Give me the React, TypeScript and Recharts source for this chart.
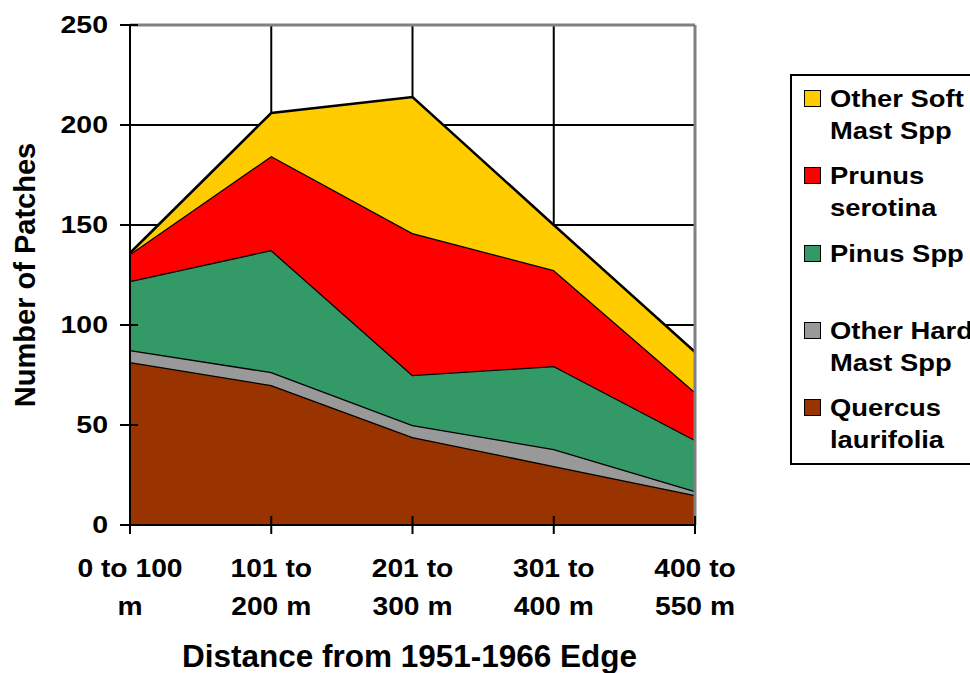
import React from 'react';
import { AreaChart, Area, XAxis, YAxis, CartesianGrid, ReferenceLine } from 'recharts';

const categories = ['0 to 100 m', '101 to 200 m', '201 to 300 m', '301 to 400 m', '400 to 550 m'];
const tickLabelLines = [
  ['0 to 100', 'm'],
  ['101 to', '200 m'],
  ['201 to', '300 m'],
  ['301 to', '400 m'],
  ['400 to', '550 m'],
];
const quercus = [81.5, 70, 44, 29.5, 15];
const otherHard = [6, 6.5, 6, 8.5, 2];
const pinus = [34.5, 61, 25, 41.5, 25.5];
const prunus = [13.5, 47, 71, 48, 24];
const otherSoft = [0.5, 21.5, 68, 22.5, 20];
const yTicks = [0, 50, 100, 150, 200, 250];

const FONT = '"Liberation Sans", Arial, sans-serif';

// stacking order bottom -> top
const series = [
  { key: 'quercus', lines: ['Quercus', 'laurifolia'], color: '#993300', values: quercus },
  { key: 'otherHard', lines: ['Other Hard', 'Mast Spp'], color: '#999999', values: otherHard },
  { key: 'pinus', lines: ['Pinus Spp', ''], color: '#339966', values: pinus },
  { key: 'prunus', lines: ['Prunus', 'serotina'], color: '#FF0000', values: prunus },
  { key: 'otherSoft', lines: ['Other Soft', 'Mast Spp'], color: '#FFCC00', values: otherSoft },
];

const data = categories.map((c, i) => {
  const row: any = { cat: c };
  series.forEach((s) => (row[s.key] = s.values[i]));
  return row;
});

const XTick = (props: any) => {
  const { x, y, payload } = props;
  const idx = categories.indexOf(payload.value);
  const lines = tickLabelLines[idx] || [payload.value];
  return (
    <g>
      <line x1={x} x2={x} y1={y - 9} y2={y + 9} stroke="#000" strokeWidth={2} />
      {lines.map((l, i) => (
        <text
          key={i}
          transform={`translate(${x},${y + 52 + i * 38}) scale(1.13,1)`}
          textAnchor="middle"
          fontFamily={FONT}
          fontWeight="bold"
          fontSize={25}
          fill="#000"
        >
          {l}
        </text>
      ))}
    </g>
  );
};

const YTick = (props: any) => {
  const { x, y, payload } = props;
  return (
    <g>
      <line x1={x - 10} x2={x + 8} y1={y} y2={y} stroke="#000" strokeWidth={2} />
      <text
        transform={`translate(${x - 22},${y + 8}) scale(1.24,1)`}
        textAnchor="end"
        fontFamily={FONT}
        fontWeight="bold"
        fontSize={23}
        fill="#000"
      >
        {payload.value}
      </text>
    </g>
  );
};

const YLabel = (props: any) => {
  const vb = props.viewBox || { x: 0, y: 0, width: 0, height: 0 };
  const cx = vb.x + 15;
  const cy = vb.y + vb.height / 2;
  return (
    <text
      transform={`translate(${cx},${cy}) rotate(-90)`}
      textAnchor="middle"
      dy="0.36em"
      fontFamily={FONT}
      fontWeight="bold"
      fontSize={29}
      fill="#000"
    >
      Number of Patches
    </text>
  );
};

const XLabel = (props: any) => {
  const vb = props.viewBox || { x: 0, y: 0, width: 0, height: 0 };
  return (
    <text
      x={vb.x + vb.width / 2 - 3}
      y={vb.y + vb.height - 6}
      textAnchor="middle"
      fontFamily={FONT}
      fontWeight="bold"
      fontSize={31.5}
      fill="#000"
    >
      Distance from 1951-1966 Edge
    </text>
  );
};

const LegendBox = () => {
  const items = [...series].reverse();
  return (
    <div
      style={{
        position: 'absolute',
        left: 790,
        top: 74,
        width: 200,
        height: 391,
        boxSizing: 'border-box',
        border: '2px solid #000',
        background: '#fff',
        fontFamily: FONT,
        fontWeight: 'bold',
        fontSize: 23,
        color: '#000',
      }}
    >
      {items.map((s, i) => (
        <div key={s.key} style={{ position: 'absolute', left: 0, top: 7 + i * 77.3, width: 200, height: 64 }}>
          <div
            style={{
              position: 'absolute',
              left: 12,
              top: 7,
              width: 17,
              height: 17,
              boxSizing: 'border-box',
              border: '1.5px solid #000',
              background: s.color,
            }}
          />
          <div
            style={{
              position: 'absolute',
              left: 38,
              top: 0,
              lineHeight: '32px',
              whiteSpace: 'nowrap',
              transform: 'scaleX(1.19)',
              transformOrigin: 'left top',
            }}
          >
            <div>{s.lines[0]}</div>
            <div>{s.lines[1] || '\u00a0'}</div>
          </div>
        </div>
      ))}
    </div>
  );
};

export default function App() {
  return (
    <div
      style={{
        position: 'absolute',
        left: 0,
        top: 0,
        width: 970,
        height: 673,
        overflow: 'hidden',
        background: '#fff',
      }}
    >
      <AreaChart
        width={970}
        height={673}
        data={data}
        margin={{ top: 25, right: 275, bottom: 0, left: 10 }}
      >
        <CartesianGrid stroke="#000" strokeWidth={2} />
        <XAxis
          dataKey="cat"
          height={148}
          interval={0}
          tickSize={0}
          tickMargin={0}
          tickLine={false}
          axisLine={{ stroke: '#000', strokeWidth: 2 }}
          tick={<XTick />}
          label={<XLabel />}
        />
        <YAxis
          type="number"
          domain={[0, 250]}
          ticks={yTicks}
          interval={0}
          width={120}
          tickSize={0}
          tickMargin={0}
          tickLine={false}
          axisLine={{ stroke: '#000', strokeWidth: 2 }}
          tick={<YTick />}
          label={<YLabel />}
        />
        {series.map((s) => (
          <Area
            key={s.key}
            type="linear"
            dataKey={s.key}
            stackId="1"
            stroke="#000"
            strokeWidth={2.5}
            fill={s.color}
            fillOpacity={1}
            isAnimationActive={false}
            dot={false}
            activeDot={false}
          />
        ))}
        <ReferenceLine y={250} stroke="#808080" strokeWidth={3} />
        <ReferenceLine x={categories[categories.length - 1]} stroke="#808080" strokeWidth={3} />
      </AreaChart>
      <LegendBox />
    </div>
  );
}
